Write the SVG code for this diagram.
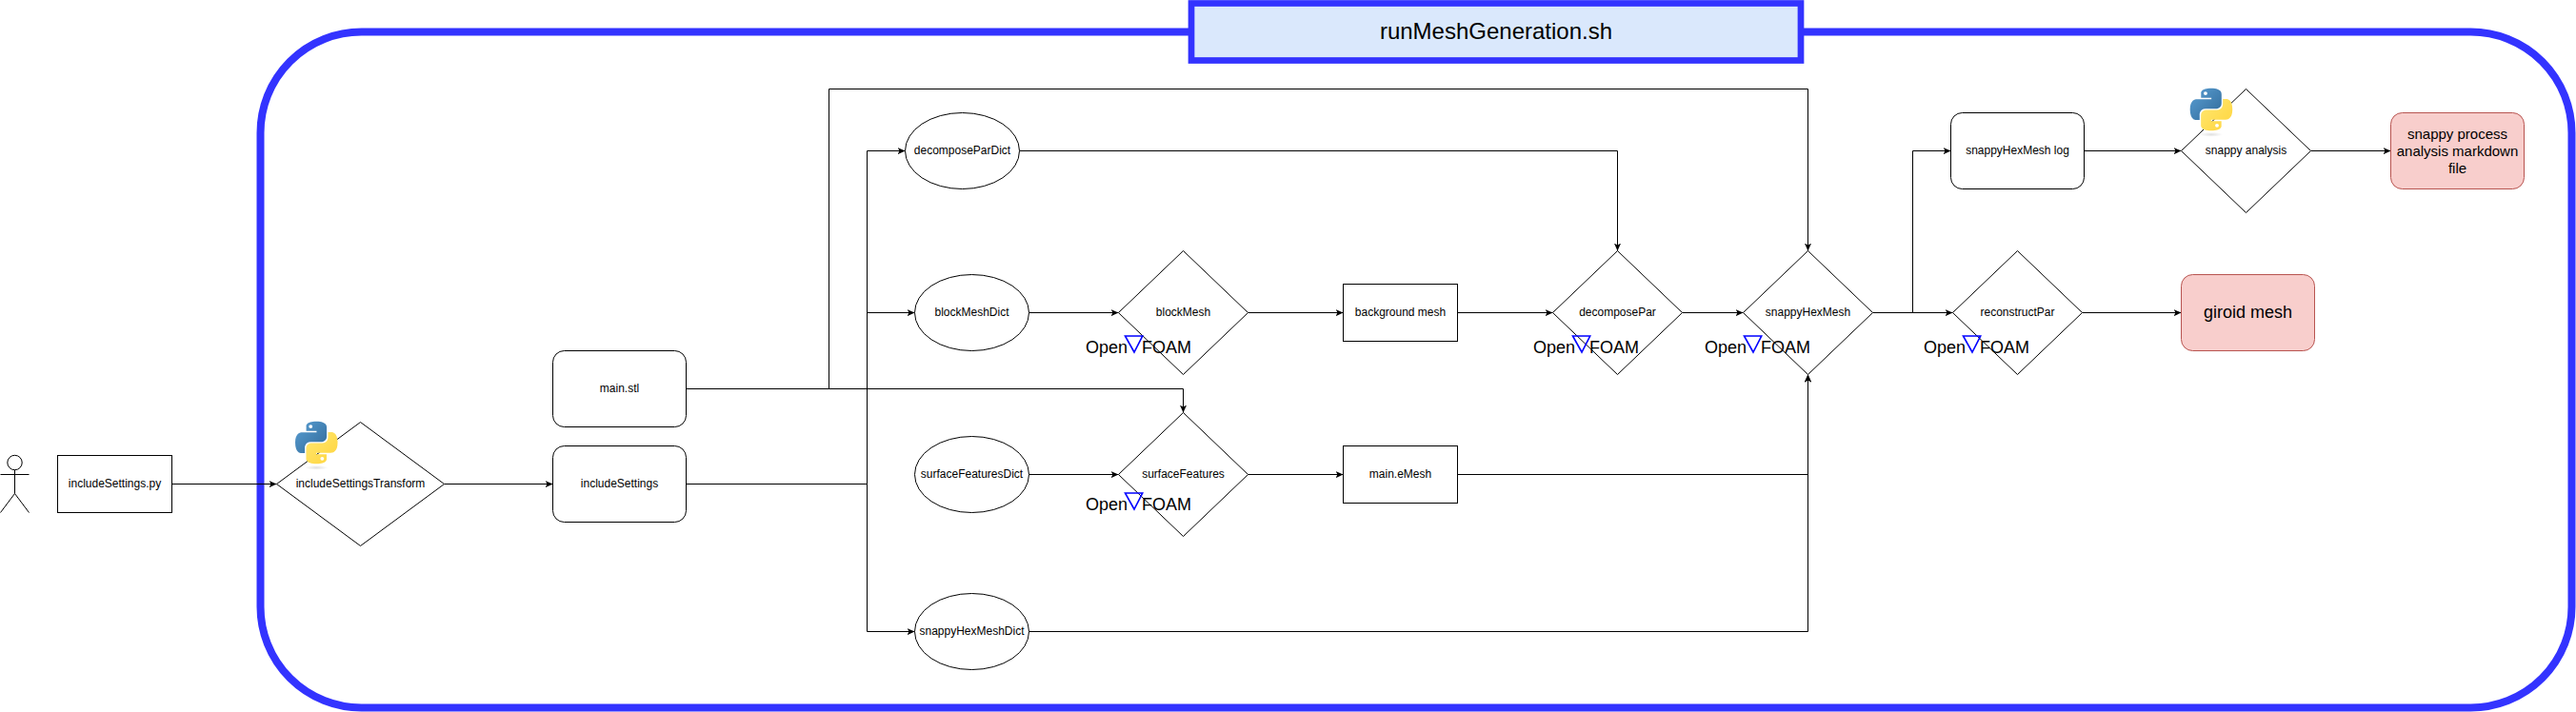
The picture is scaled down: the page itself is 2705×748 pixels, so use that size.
<svg xmlns="http://www.w3.org/2000/svg" width="2705" height="748" viewBox="0 0 2705 748">
<style>
text{font-family:"Liberation Sans",Arial,sans-serif;fill:#000;text-anchor:middle;opacity:.999}
.s{font-size:12px}
.ln{fill:none;stroke:#000;stroke-width:1}
.arr{fill:none;stroke:#000;stroke-width:1;marker-end:url(#a)}
.n{fill:#fff;stroke:#000;stroke-width:1}
.r{fill:#f8cecc;stroke:#b85450;stroke-width:1}
.of{font-size:18px;text-anchor:start}
.tri{fill:none;stroke:#0000ff;stroke-width:1.6}
</style>
<defs>
<marker id="a" markerUnits="userSpaceOnUse" markerWidth="10" markerHeight="10" refX="8" refY="4" orient="auto"><path d="M8 4 0 .4 2 4 0 7.6z" fill="#000"/></marker>
<linearGradient id="pb" x1="0" y1="0" x2="1" y2="1"><stop offset="0" stop-color="#5a9fd4"/><stop offset="1" stop-color="#306998"/></linearGradient>
<linearGradient id="py" x1="0" y1="0" x2="1" y2="1"><stop offset="0" stop-color="#ffd43b"/><stop offset="1" stop-color="#ffe873"/></linearGradient>
<radialGradient id="ps"><stop offset="0" stop-color="#b8b8b8" stop-opacity=".45"/><stop offset="1" stop-color="#b8b8b8" stop-opacity="0"/></radialGradient>
<g id="py-logo">
<ellipse cx="55" cy="120" rx="30" ry="6" fill="url(#ps)"/>
<path fill="url(#pb)" fill-rule="evenodd" d="M54.9 0C26.8 0 28.6 12.2 28.6 12.2l.03 12.6h26.8v3.8H17.9S0 26.6 0 54.9s15.6 27.3 15.6 27.3h9.3V69.1s-.5-15.6 15.4-15.6h26.5s14.9.24 14.9-14.4V14.9S84 0 54.9 0zM40.1 8.5a4.8 4.8 0 1 1 0 9.6 4.8 4.8 0 0 1 0-9.6z"/>
<path fill="url(#py)" fill-rule="evenodd" transform="rotate(180 55 55)" d="M54.9 0C26.8 0 28.6 12.2 28.6 12.2l.03 12.6h26.8v3.8H17.9S0 26.6 0 54.9s15.6 27.3 15.6 27.3h9.3V69.1s-.5-15.6 15.4-15.6h26.5s14.9.24 14.9-14.4V14.9S84 0 54.9 0zM40.1 8.5a4.8 4.8 0 1 1 0 9.6 4.8 4.8 0 0 1 0-9.6z"/>
</g>
</defs>
<g id="container"><rect x="273.5" y="33.5" width="2427" height="710" rx="106" ry="106" fill="none" stroke="#3333ff" stroke-width="8"/></g>
<g id="connectors">
<path class="arr" d="M180.5 508.5H290.5"/>
<path class="arr" d="M466.5 508.5H580.5"/>
<path class="ln" d="M720.5 508.5H910.5"/>
<path class="arr" d="M910.5 508.5V158.5H950.5"/>
<path class="arr" d="M910.5 328.5H960.5"/>
<path class="arr" d="M910.5 508.5V663.5H960.5"/>
<path class="arr" d="M720.5 408.5H1242.5V433.5"/>
<path class="arr" d="M870.5 408.5V93.5H1898.5V263.5"/>
<path class="arr" d="M1070.5 158.5H1698.5V263.5"/>
<path class="arr" d="M1080.5 328.5H1174.5"/>
<path class="arr" d="M1310.5 328.5H1410.5"/>
<path class="arr" d="M1530.5 328.5H1630.5"/>
<path class="arr" d="M1766.5 328.5H1830.5"/>
<path class="arr" d="M1966.5 328.5H2050.5"/>
<path class="arr" d="M2008.5 328.5V158.5H2048.5"/>
<path class="arr" d="M2186.5 328.5H2290.5"/>
<path class="arr" d="M2188.5 158.5H2290.5"/>
<path class="arr" d="M2426.5 158.5H2510.5"/>
<path class="arr" d="M1080.5 498.5H1174.5"/>
<path class="arr" d="M1310.5 498.5H1410.5"/>
<path class="arr" d="M1530.5 498.5H1898.5V393.5"/>
<path class="arr" d="M1080.5 663.5H1898.5V393.5"/>
</g>
<g id="title"><rect x="1251" y="3.5" width="640" height="60" fill="#dae8fc" stroke="#3333ff" stroke-width="6.7"/><text x="1571" y="41" font-size="24">runMeshGeneration.sh</text></g>
<g id="actor" class="ln"><ellipse cx="15.5" cy="486" rx="7.7" ry="7.7"/><path d="M15.5 493.7V518.5M.5 498.5H30.5M.5 538.5 15.5 518.5 30.5 538.5"/></g>
<g id="includeSettings-py"><rect class="n" x="60.5" y="478.5" width="120" height="60"/><text class="s" x="120.5" y="512">includeSettings.py</text></g>
<g id="includeSettingsTransform"><path class="n" d="M378.5 443.5 466.5 508.5 378.5 573.5 290.5 508.5z"/><text class="s" x="378.5" y="512">includeSettingsTransform</text><use href="#py-logo" transform="translate(310 442.7) scale(.405)"/></g>
<g id="main-stl"><rect class="n" x="580.5" y="368.5" width="140" height="80" rx="12"/><text class="s" x="650.5" y="412">main.stl</text></g>
<g id="includeSettings"><rect class="n" x="580.5" y="468.5" width="140" height="80" rx="12"/><text class="s" x="650.5" y="512">includeSettings</text></g>
<g id="decomposeParDict"><ellipse class="n" cx="1010.5" cy="158.5" rx="60" ry="40"/><text class="s" x="1010.5" y="162">decomposeParDict</text></g>
<g id="blockMeshDict"><ellipse class="n" cx="1020.5" cy="328.5" rx="60" ry="40"/><text class="s" x="1020.5" y="332">blockMeshDict</text></g>
<g id="surfaceFeaturesDict"><ellipse class="n" cx="1020.5" cy="498.5" rx="60" ry="40"/><text class="s" x="1020.5" y="502">surfaceFeaturesDict</text></g>
<g id="snappyHexMeshDict"><ellipse class="n" cx="1020.5" cy="663.5" rx="60" ry="40"/><text class="s" x="1020.5" y="667">snappyHexMeshDict</text></g>
<g id="blockMesh"><path class="n" d="M1242.5 263.5 1310.5 328.5 1242.5 393.5 1174.5 328.5z"/><text class="s" x="1242.5" y="332">blockMesh</text><text class="of" x="1140" y="371">Open</text><path class="tri" d="M1181.5 353H1199.7L1191 370z"/><text class="of" x="1199" y="371">FOAM</text></g>
<g id="surfaceFeatures"><path class="n" d="M1242.5 433.5 1310.5 498.5 1242.5 563.5 1174.5 498.5z"/><text class="s" x="1242.5" y="502">surfaceFeatures</text><text class="of" x="1140" y="536">Open</text><path class="tri" d="M1181.5 518H1199.7L1191 535z"/><text class="of" x="1199" y="536">FOAM</text></g>
<g id="background-mesh"><rect class="n" x="1410.5" y="298.5" width="120" height="60"/><text class="s" x="1470.5" y="332">background mesh</text></g>
<g id="main-eMesh"><rect class="n" x="1410.5" y="468.5" width="120" height="60"/><text class="s" x="1470.5" y="502">main.eMesh</text></g>
<g id="decomposePar"><path class="n" d="M1698.5 263.5 1766.5 328.5 1698.5 393.5 1630.5 328.5z"/><text class="s" x="1698.5" y="332">decomposePar</text><text class="of" x="1610" y="371">Open</text><path class="tri" d="M1651.5 353H1669.7L1661 370z"/><text class="of" x="1669" y="371">FOAM</text></g>
<g id="snappyHexMesh"><path class="n" d="M1898.5 263.5 1966.5 328.5 1898.5 393.5 1830.5 328.5z"/><text class="s" x="1898.5" y="332">snappyHexMesh</text><text class="of" x="1790" y="371">Open</text><path class="tri" d="M1831.5 353H1849.7L1841 370z"/><text class="of" x="1849" y="371">FOAM</text></g>
<g id="reconstructPar"><path class="n" d="M2118.5 263.5 2186.5 328.5 2118.5 393.5 2050.5 328.5z"/><text class="s" x="2118.5" y="332">reconstructPar</text><text class="of" x="2020" y="371">Open</text><path class="tri" d="M2061.5 353H2079.7L2071 370z"/><text class="of" x="2079" y="371">FOAM</text></g>
<g id="snappyHexMesh-log"><rect class="n" x="2048.5" y="118.5" width="140" height="80" rx="12"/><text class="s" x="2118.5" y="162">snappyHexMesh log</text></g>
<g id="snappy-analysis"><path class="n" d="M2358.5 93.5 2426.5 158.5 2358.5 223.5 2290.5 158.5z"/><text class="s" x="2358.5" y="162">snappy analysis</text><use href="#py-logo" transform="translate(2299.7 92.7) scale(.405)"/></g>
<g id="snappy-report"><rect class="r" x="2510.5" y="118.5" width="140" height="80" rx="12"/><text font-size="15" x="2580.5" y="146">snappy process</text><text font-size="15" x="2580.5" y="164">analysis markdown</text><text font-size="15" x="2580.5" y="182">file</text></g>
<g id="giroid-mesh"><rect class="r" x="2290.5" y="288.5" width="140" height="80" rx="12"/><text font-size="18" x="2360.5" y="334">giroid mesh</text></g>
</svg>
